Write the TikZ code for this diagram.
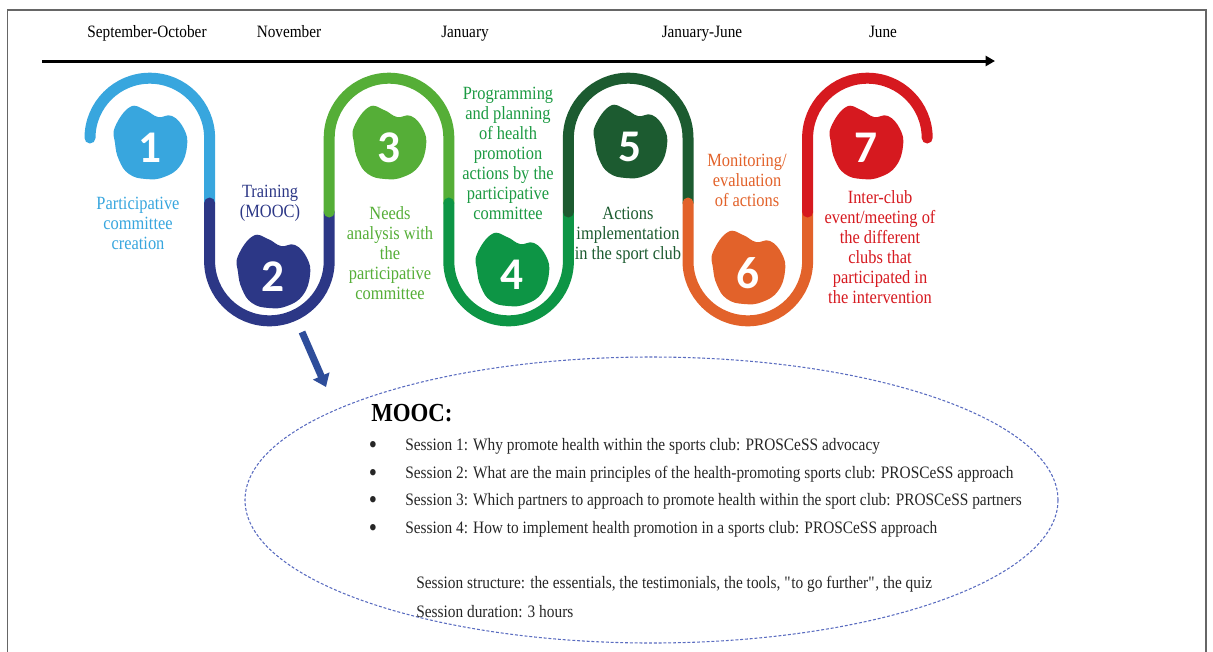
\documentclass[tikz,border=0pt]{standalone}
\usepackage{fontspec}
\setmainfont{Liberation Serif}[FakeStretch=0.88]
\newfontfamily\numfont{Carlito}
\usepackage{xcolor}
\usetikzlibrary{positioning, arrows.meta, shapes.geometric}

\definecolor{lblue}{HTML}{38A6DE}
\definecolor{nblue}{HTML}{2C3786}
\definecolor{lgreen}{HTML}{55AE37}
\definecolor{mgreen}{HTML}{0D9545}
\definecolor{dgreen}{HTML}{1C5B30}
\definecolor{orng}{HTML}{E2622A}
\definecolor{rred}{HTML}{D6191F}
\definecolor{arrblue}{HTML}{2E4D9A}
\definecolor{dotblue}{HTML}{5A6CC0}

\tikzset{
  track/.style={line width=8.25pt, line cap=round},
  steplabel/.style={align=center, inner sep=0pt, font=\fontsize{14}{15}\selectfont},
  monthlabel/.style={anchor=base, inner sep=0pt, font=\fontsize{13}{15}\selectfont},
  stepnum/.style={text=white, inner sep=0pt, font=\numfont\bfseries\fontsize{34}{34}\selectfont},
  sessionitem/.style={anchor=west, inner sep=0pt, text=black!85, font=\fontsize{13.1}{16}\selectfont},
  bulletmark/.style={inner sep=0pt, text=black!85, font=\fontsize{20}{20}\selectfont},
}

\begin{document}
\begin{tikzpicture}[x=0.75pt,y=0.75pt,yscale=-1,xscale=1]
    \useasboundingbox (0,0) rectangle (1213,651);
    \clip (0,0) rectangle (1213,651);
    % frame
    \draw [black!60, line width=0.9pt] (7.5,10) rectangle (1206,700);

    % months and time line
    \node [monthlabel] (m1) at (147,37) {September-October};
    \node [monthlabel] (m2) at (289,37) {November};
    \node [monthlabel] (m3) at (465,37) {January};
    \node [monthlabel] (m4) at (702,37) {January-June};
    \node [monthlabel] (m5) at (883,37) {June};
    \coordinate (tl-start) at (42,61);
    \coordinate (tl-end) at (995,61);
    \draw [line width=2.25pt, -{Triangle[length=7pt,width=7.5pt]}] (tl-start) -- (tl-end);

    % the winding track
    \draw [track, lblue] (90,138) arc [start angle=180, end angle=360, radius=59.8] -- (209.6,203);
    \draw [track, nblue] (209.6,203) -- (209.6,261) arc [start angle=180, end angle=0, radius=59.8] -- (329.2,212);
    \draw [track, lgreen] (329.2,212) -- (329.2,138) arc [start angle=180, end angle=360, radius=59.8] -- (448.8,203);
    \draw [track, mgreen] (448.8,203) -- (448.8,261) arc [start angle=180, end angle=0, radius=59.8] -- (568.4,212);
    \draw [track, dgreen] (568.4,212) -- (568.4,138) arc [start angle=180, end angle=360, radius=59.8] -- (688,203);
    \draw [track, orng] (688,203) -- (688,261) arc [start angle=180, end angle=0, radius=59.8] -- (807.6,212);
    \draw [track, rred] (807.6,212) -- (807.6,138) arc [start angle=180, end angle=360, radius=59.8];

    % blobs with their numbers
    \foreach \cx/\cy/\col/\num in {150/143/lblue/1, 273/272/nblue/2, 389/143/lgreen/3, 512/270/mgreen/4,
                                   630/142/dgreen/5, 748/268/orng/6, 866/143/rred/7} {
        \fill [\col, shift={(\cx,\cy)}] plot [smooth cycle, tension=0.75] coordinates {
            (-35,-16) (-20,-36) (-5,-33) (8,-26) (22,-27) (34,-14) (37,3)
            (30,23) (14,34) (-4,36) (-21,31) (-31,17) (-35,0)};
        \node [stepnum] (n\num) at (\cx,\cy+5) {\num};
    }

    % step texts
    \node [steplabel, text=lblue] (lab1) at (138,223) {Participative\\committee\\creation};
    \node [steplabel, text=nblue] (lab2) at (270,203.5) {Training\\(MOOC)};
    \node [steplabel, text=lgreen] (lab3) at (390,253) {Needs\\analysis with\\the\\participative\\committee};
    \node [steplabel, text=mgreen!80!lgreen] (lab4) at (508,153) {Programming\\and planning\\of health\\promotion\\actions by the\\participative\\committee};
    \node [steplabel, text=dgreen] (lab5) at (628,235) {Actions\\implementation\\in the sport club};
    \node [steplabel, text=orng] (lab6) at (747,180) {Monitoring/\\evaluation\\of actions};
    \node [steplabel, text=rred] (lab7) at (880,247) {Inter-club\\event/meeting of\\the different\\clubs that\\participated in\\the intervention};

    % MOOC details
    \coordinate (arr-tail) at (302,332);
    \coordinate (arr-tip) at (326,387);
    \draw [arrblue, line width=5.25pt, -{Triangle[length=9pt,width=13pt]}] (arr-tail) -- (arr-tip);
    \node [draw=dotblue, ellipse, line width=0.8pt, dash pattern={on 2.2pt off 1.4pt},
           minimum width=609.75pt, minimum height=214.5pt, inner sep=0pt] (moocbox) at (651.5,500) {};
    \node [anchor=west, inner sep=0pt, font=\bfseries\fontsize{19.5}{20}\selectfont] (mooc) at (371,413) {MOOC:};
    \node [bulletmark] (b1) at (373,447) {\textbullet};
    \node [bulletmark] (b2) at (373,475) {\textbullet};
    \node [bulletmark] (b3) at (373,502) {\textbullet};
    \node [bulletmark] (b4) at (373,530) {\textbullet};
    \node [sessionitem] (s1) at (405,446) {Session 1: Why promote health within the sports club: PROSCeSS advocacy};
    \node [sessionitem] (s2) at (405,474) {Session 2: What are the main principles of the health-promoting sports club: PROSCeSS approach};
    \node [sessionitem] (s3) at (405,501) {Session 3: Which partners to approach to promote health within the sport club: PROSCeSS partners};
    \node [sessionitem] (s4) at (405,529) {Session 4: How to implement health promotion in a sports club: PROSCeSS approach};
    \node [sessionitem] (st) at (416,584) {Session structure: the essentials, the testimonials, the tools, \textquotedbl to go further\textquotedbl, the quiz};
    \node [sessionitem] (sd) at (416,612) {Session duration: 3 hours};
\end{tikzpicture}
\end{document}
